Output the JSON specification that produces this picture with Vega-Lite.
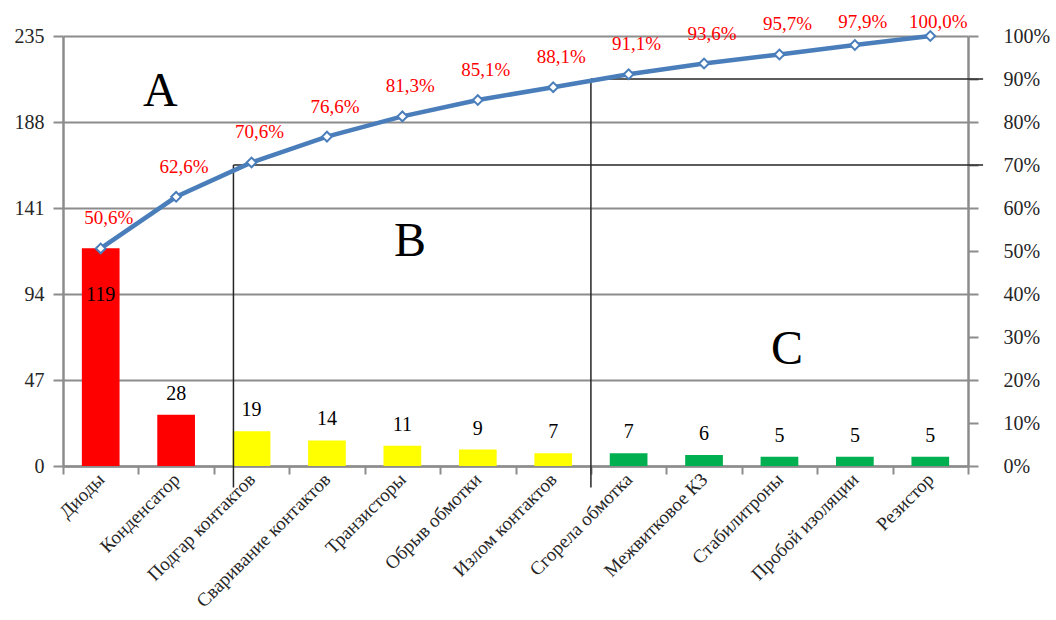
{
  "$schema": "https://vega.github.io/schema/vega-lite/v6.json",
  "width": 905,
  "height": 430,
  "autosize": {"type": "none"},
  "padding": {"left": 63, "top": 36, "right": 88, "bottom": 154},
  "background": "white",
  "config": {
    "view": {"stroke": null},
    "locale": {"number": {"decimal": ",", "thousands": "\u00a0", "grouping": [3], "currency": ["", "\u00a0₽"]}},
    "font": "Liberation Serif",
    "axis": {
      "labelFont": "Liberation Serif",
      "labelFontSize": 20,
      "labelColor": "#262626",
      "domainColor": "#8c8c8c",
      "domainWidth": 2.5,
      "tickColor": "#8c8c8c",
      "tickWidth": 2,
      "gridColor": "#8c8c8c",
      "gridWidth": 2
    }
  },
  "datasets": {
    "defects": [
      {"name": "Диоды", "count": 119, "zone": "A", "cum": 0.506},
      {"name": "Конденсатор", "count": 28, "zone": "A", "cum": 0.626},
      {"name": "Подгар контактов", "count": 19, "zone": "B", "cum": 0.706},
      {"name": "Сваривание контактов", "count": 14, "zone": "B", "cum": 0.766},
      {"name": "Транзисторы", "count": 11, "zone": "B", "cum": 0.813},
      {"name": "Обрыв обмотки", "count": 9, "zone": "B", "cum": 0.851},
      {"name": "Излом контактов", "count": 7, "zone": "B", "cum": 0.881},
      {"name": "Сгорела обмотка", "count": 7, "zone": "C", "cum": 0.911},
      {"name": "Межвитковое КЗ", "count": 6, "zone": "C", "cum": 0.936},
      {"name": "Стабилитроны", "count": 5, "zone": "C", "cum": 0.957},
      {"name": "Пробой изоляции", "count": 5, "zone": "C", "cum": 0.979},
      {"name": "Резистор", "count": 5, "zone": "C", "cum": 1.0}
    ],
    "bounds": [
      {"zone": "B", "start": "Подгар контактов", "end": "Резистор", "share": 0.7},
      {"zone": "C", "start": "Сгорела обмотка", "end": "Резистор", "share": 0.9}
    ],
    "zones": [
      {"zone": "A", "slot": "Конденсатор", "share": 0.87},
      {"zone": "B", "slot": "Транзисторы", "share": 0.52},
      {"zone": "C", "slot": "Стабилитроны", "share": 0.27}
    ]
  },
  "layer": [
    {
      "data": {"name": "defects"},
      "layer": [
        {
          "mark": {"type": "bar", "width": {"band": 0.5}},
          "encoding": {
            "x": {
              "field": "name",
              "type": "nominal",
              "title": null,
              "sort": null,
              "scale": {
                "type": "band",
                "domain": ["Диоды", "Конденсатор", "Подгар контактов", "Сваривание контактов", "Транзисторы", "Обрыв обмотки", "Излом контактов", "Сгорела обмотка", "Межвитковое КЗ", "Стабилитроны", "Пробой изоляции", "Резистор"],
                "paddingInner": 0,
                "paddingOuter": 0
              },
              "axis": {
                "title": null,
                "tickBand": "extent",
                "labelAngle": -45,
                "labelAlign": "right",
                "labelBaseline": "middle",
                "labelFont": "Liberation Serif",
                "labelFontSize": 19,
                "tickSize": 8,
                "labelPadding": 2,
                "labelLimit": 400,
                "grid": false
              }
            },
            "y": {
              "field": "count",
              "type": "quantitative",
              "title": null,
              "scale": {"domain": [0, 235], "nice": false},
              "axis": {"title": null, "values": [0, 47, 94, 141, 188, 235], "grid": true, "tickSize": 10, "labelPadding": 9, "format": "d", "labelFont": "Liberation Serif", "labelFontSize": 20}
            },
            "color": {
              "field": "zone",
              "type": "nominal",
              "scale": {"domain": ["A", "B", "C"], "range": ["#ff0000", "#ffff00", "#00b050"]},
              "legend": null
            }
          }
        },
        {
          "transform": [{"filter": "datum.count < 100"}],
          "mark": {"type": "text", "font": "Liberation Serif", "fontSize": 20, "baseline": "middle", "dy": -21, "color": "#000000"},
          "encoding": {
            "x": {"field": "name", "type": "nominal", "title": null},
            "y": {"field": "count", "type": "quantitative", "title": null},
            "text": {"field": "count", "type": "quantitative"}
          }
        },
        {
          "transform": [{"filter": "datum.count >= 100"}],
          "mark": {"type": "text", "font": "Liberation Serif", "fontSize": 20, "baseline": "middle", "dy": 47, "color": "#000000"},
          "encoding": {
            "x": {"field": "name", "type": "nominal", "title": null},
            "y": {"field": "count", "type": "quantitative", "title": null},
            "text": {"field": "count", "type": "quantitative"}
          }
        }
      ]
    },
    {
      "layer": [
        {
          "data": {"name": "bounds"},
          "transform": [{"filter": "datum.zone == 'B'"}],
          "mark": {"type": "rule", "color": "#262626", "strokeWidth": 1.5},
          "encoding": {
            "x": {"field": "start", "type": "nominal", "bandPosition": 0.26, "title": null},
            "y": {"field": "share", "type": "quantitative", "title": null},
            "y2": {"datum": -0.05}
          }
        },
        {
          "data": {"name": "bounds"},
          "transform": [{"filter": "datum.zone == 'B'"}],
          "mark": {"type": "rule", "color": "#262626", "strokeWidth": 1.5},
          "encoding": {
            "x": {"field": "start", "type": "nominal", "bandPosition": 0.26, "title": null},
            "x2": {"field": "end", "bandPosition": 1.2},
            "y": {"field": "share", "type": "quantitative", "title": null}
          }
        },
        {
          "data": {"name": "bounds"},
          "transform": [{"filter": "datum.zone == 'C'"}],
          "mark": {"type": "rule", "color": "#262626", "strokeWidth": 1.5},
          "encoding": {
            "x": {"field": "start", "type": "nominal", "bandPosition": 0, "title": null},
            "y": {"field": "share", "type": "quantitative", "title": null},
            "y2": {"datum": -0.05}
          }
        },
        {
          "data": {"name": "bounds"},
          "transform": [{"filter": "datum.zone == 'C'"}],
          "mark": {"type": "rule", "color": "#262626", "strokeWidth": 1.5},
          "encoding": {
            "x": {"field": "start", "type": "nominal", "bandPosition": 0, "title": null},
            "x2": {"field": "end", "bandPosition": 1.2},
            "y": {"field": "share", "type": "quantitative", "title": null}
          }
        },
        {
          "data": {"name": "defects"},
          "mark": {"type": "line", "color": "#4a7ebb", "strokeWidth": 4.5},
          "encoding": {
            "x": {"field": "name", "type": "nominal", "title": null},
            "y": {
              "field": "cum",
              "type": "quantitative",
              "title": null,
              "scale": {"domain": [0, 1], "nice": false},
              "axis": {
                "title": null,
                "orient": "right",
                "values": [0, 0.1, 0.2, 0.3, 0.4, 0.5, 0.6, 0.7, 0.8, 0.9, 1],
                "format": ".0%",
                "grid": false,
                "tickSize": 10,
                "labelPadding": 25,
                "labelFont": "Liberation Serif",
                "labelFontSize": 20
              }
            }
          }
        },
        {
          "data": {"name": "defects"},
          "mark": {"type": "point", "shape": "diamond", "filled": true, "fill": "#ffffff", "stroke": "#4a7ebb", "strokeWidth": 2, "size": 95, "opacity": 1},
          "encoding": {
            "x": {"field": "name", "type": "nominal", "title": null},
            "y": {"field": "cum", "type": "quantitative", "title": null}
          }
        },
        {
          "data": {"name": "defects"},
          "transform": [{"filter": "datum.cum < 0.97"}],
          "mark": {"type": "text", "font": "Liberation Serif", "color": "#ff0000", "fontSize": 19, "dx": 8, "dy": -30, "baseline": "middle"},
          "encoding": {
            "x": {"field": "name", "type": "nominal", "title": null},
            "y": {"field": "cum", "type": "quantitative", "title": null},
            "text": {"field": "cum", "type": "quantitative", "format": ".1%"}
          }
        },
        {
          "data": {"name": "defects"},
          "transform": [{"filter": "datum.cum >= 0.97 && datum.cum < 0.99"}],
          "mark": {"type": "text", "font": "Liberation Serif", "color": "#ff0000", "fontSize": 19, "dx": 8, "dy": -23, "baseline": "middle"},
          "encoding": {
            "x": {"field": "name", "type": "nominal", "title": null},
            "y": {"field": "cum", "type": "quantitative", "title": null},
            "text": {"field": "cum", "type": "quantitative", "format": ".1%"}
          }
        },
        {
          "data": {"name": "defects"},
          "transform": [{"filter": "datum.cum >= 0.99"}],
          "mark": {"type": "text", "font": "Liberation Serif", "color": "#ff0000", "fontSize": 19, "dx": 8, "dy": -14, "baseline": "middle"},
          "encoding": {
            "x": {"field": "name", "type": "nominal", "title": null},
            "y": {"field": "cum", "type": "quantitative", "title": null},
            "text": {"field": "cum", "type": "quantitative", "format": ".1%"}
          }
        },
        {
          "data": {"name": "zones"},
          "transform": [{"filter": "datum.zone == 'A'"}],
          "mark": {"type": "text", "font": "Liberation Serif", "fontSize": 48, "baseline": "middle", "align": "center", "color": "#000000"},
          "encoding": {
            "x": {"field": "slot", "type": "nominal", "bandPosition": 0.29, "title": null},
            "y": {"field": "share", "type": "quantitative", "title": null},
            "text": {"field": "zone", "type": "nominal"}
          }
        },
        {
          "data": {"name": "zones"},
          "transform": [{"filter": "datum.zone != 'A'"}],
          "mark": {"type": "text", "font": "Liberation Serif", "fontSize": 48, "baseline": "middle", "align": "center", "color": "#000000"},
          "encoding": {
            "x": {"field": "slot", "type": "nominal", "bandPosition": 0.6, "title": null},
            "y": {"field": "share", "type": "quantitative", "title": null},
            "text": {"field": "zone", "type": "nominal"}
          }
        }
      ]
    }
  ],
  "resolve": {"scale": {"y": "independent"}}
}
